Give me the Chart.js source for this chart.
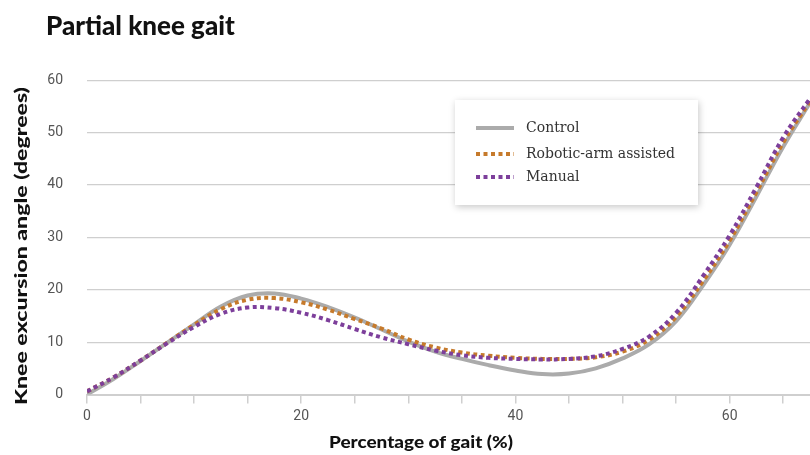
<!DOCTYPE html>
<html>
<head>
<meta charset="utf-8">
<script src="https://cdn.jsdelivr.net/npm/chart.js@4/dist/chart.umd.min.js"></script>
<style>
  html, body { margin: 0; padding: 0; background: #ffffff; }
  #wrap { width: 810px; height: 455px; position: relative; }
  canvas { display: block; }
</style>
</head>
<body>
<div id="wrap"><canvas id="c" width="810" height="455"></canvas></div>
<script>
// ---- data ----
const gaitPercent = [0, 2.5, 5, 7.5, 10, 12.5, 15, 17.5, 20, 22.5, 25, 27.5, 30, 32.5, 35, 37.5, 40, 42.5, 45, 47.5, 50, 52.5, 55, 57.5, 60, 62.5, 65, 67.5];
const controlAngle = [0, 3.0, 6.4, 9.9, 13.4, 16.8, 18.9, 19.3, 18.3, 16.7, 14.7, 12.4, 10.1, 8.2, 6.8, 5.6, 4.6, 3.9, 4.0, 5.0, 6.9, 9.6, 14.0, 20.8, 28.6, 37.8, 47.3, 55.7];
const roboticAngle = [0.6, 3.3, 6.5, 9.9, 13.3, 16.3, 18.1, 18.4, 17.6, 16.2, 14.4, 12.6, 10.5, 9.0, 8.0, 7.4, 7.0, 6.8, 6.8, 7.1, 8.2, 10.5, 14.8, 21.6, 29.4, 38.6, 48.1, 56.0];
const manualAngle  = [0.6, 3.3, 6.5, 9.8, 12.9, 15.4, 16.6, 16.5, 15.6, 14.2, 12.5, 10.9, 9.6, 8.4, 7.5, 7.0, 6.8, 6.7, 6.8, 7.3, 8.7, 11.1, 15.6, 22.6, 30.4, 39.6, 49.1, 56.5];
const seriesNames = ['Control', 'Robotic-arm assisted', 'Manual'];
const xTickLabels = [0, 20, 40, 60];
const yTicks = [0, 10, 20, 30, 40, 50, 60];
const chartTitle = 'Partial knee gait';
const xTitle = 'Percentage of gait (%)';
const yTitle = 'Knee excursion angle (degrees)';

function pts(ys) { return gaitPercent.map((x, i) => ({ x: x, y: ys[i] })); }

const GRID = '#cfcfcf';
const TICK_FONT = { family: 'Roboto, "Liberation Sans", sans-serif', size: 14, weight: '400' };

// custom legend box (floating, with shadow) + axis titles
const decor = {
  id: 'decor',
  afterDraw(chart) {
    const ctx = chart.ctx;
    ctx.save();
    ctx.fillStyle = '#111';
    ctx.textAlign = 'center';
    ctx.textBaseline = 'middle';
    // x title, condensed
    ctx.font = '900 17px Lato, "DejaVu Sans", sans-serif';
    let w = ctx.measureText(xTitle).width;
    ctx.save();
    ctx.translate(421, 443);
    ctx.scale(184 / w, 1);
    ctx.fillText(xTitle, 0, 0);
    ctx.restore();
    // y title
    w = ctx.measureText(yTitle).width;
    ctx.save();
    ctx.translate(22, 246);
    ctx.rotate(-Math.PI / 2);
    ctx.scale(318 / w, 1);
    ctx.fillText(yTitle, 0, 0);
    ctx.restore();

    // legend box
    const bx = 455, by = 100, bw = 243, bh = 105;
    ctx.save();
    ctx.shadowColor = 'rgba(0,0,0,0.22)';
    ctx.shadowBlur = 7;
    ctx.shadowOffsetX = 1;
    ctx.shadowOffsetY = 2;
    ctx.fillStyle = '#ffffff';
    ctx.fillRect(bx, by, bw, bh);
    ctx.restore();
    const rows = [128, 154, 177];
    ctx.font = '14px "DejaVu Serif", serif';
    ctx.textAlign = 'left';
    ctx.textBaseline = 'middle';
    chart.data.datasets.forEach((ds, k) => {
      const y = rows[k];
      ctx.save();
      ctx.strokeStyle = ds.borderColor;
      ctx.lineWidth = ds.borderWidth;
      ctx.setLineDash(ds.borderDash || []);
      ctx.lineCap = 'butt';
      ctx.beginPath();
      ctx.moveTo(476, y);
      ctx.lineTo(514, y);
      ctx.stroke();
      ctx.restore();
      ctx.fillStyle = '#333333';
      ctx.fillText(ds.label, 526, y);
    });
    ctx.restore();
  }
};

new Chart(document.getElementById('c'), {
  type: 'line',
  data: {
    datasets: [
      { label: seriesNames[0], data: pts(controlAngle), borderColor: '#ababab', borderWidth: 4, order: 3 },
      { label: seriesNames[1], data: pts(roboticAngle), borderColor: '#c67a2b', borderWidth: 4, borderDash: [4, 3.5], order: 2 },
      { label: seriesNames[2], data: pts(manualAngle), borderColor: '#7d3f9b', borderWidth: 4, borderDash: [4, 3.5], order: 1 }
    ]
  },
  options: {
    responsive: false,
    animation: false,
    devicePixelRatio: 1,
    layout: { padding: { left: 46, right: 0, top: 0, bottom: 0 } },
    elements: {
      point: { radius: 0, hoverRadius: 0 },
      line: { tension: 0.4, fill: false }
    },
    plugins: {
      legend: { display: false },
      tooltip: { enabled: false },
      title: {
        display: true,
        text: chartTitle,
        align: 'start',
        color: '#111',
        font: { family: 'Lato, "DejaVu Sans", sans-serif', size: 26, weight: '900' },
        padding: { top: 11, bottom: 38 }
      }
    },
    scales: {
      x: {
        type: 'linear',
        min: 0,
        max: 67.5,
        afterFit(scale) { scale.height = 60.5; },
        border: { display: true, color: GRID, width: 2 },
        grid: { drawOnChartArea: false, drawTicks: true, tickLength: 9, color: GRID, lineWidth: 1.5 },
        ticks: {
          stepSize: 5,
          includeBounds: false,
          autoSkip: false,
          maxRotation: 0,
          padding: 5,
          color: '#555',
          font: TICK_FONT,
          callback: (v) => xTickLabels.includes(v) ? String(v) : ''
        },
        title: { display: false }
      },
      y: {
        min: 0,
        max: 60,
        afterFit(scale) { scale.width = 41; },
        border: { display: false },
        grid: { drawTicks: false, color: GRID, lineWidth: 1.2 },
        ticks: {
          stepSize: 10,
          padding: 24,
          color: '#555',
          font: TICK_FONT,
          callback: (v) => yTicks.includes(v) ? String(v) : ''
        },
        title: { display: false }
      }
    }
  },
  plugins: [decor]
});
</script>
</body>
</html>
